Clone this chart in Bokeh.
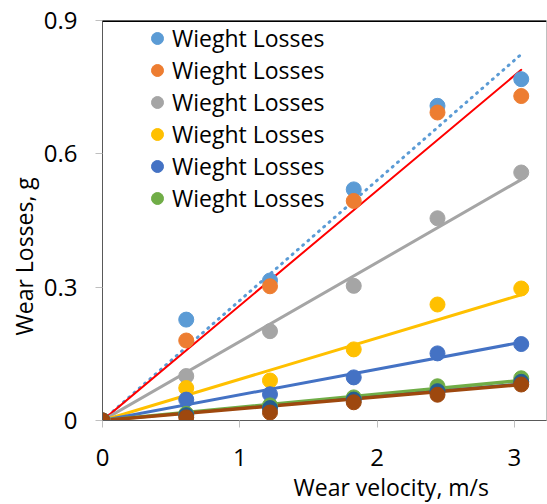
from bokeh.plotting import figure
from bokeh.models import Range1d, FixedTicker, Span, Title, Legend, LegendItem
from bokeh.embed import file_html
from bokeh.resources import INLINE

# ---- data ----
velocity = [0, 0.61, 1.22, 1.83, 2.44, 3.05]
s1 = [0, 0.227, 0.315, 0.520, 0.708, 0.768]   # light blue
s2 = [0, 0.180, 0.302, 0.494, 0.693, 0.730]   # orange
s3 = [0, 0.100, 0.201, 0.303, 0.455, 0.558]   # gray
s4 = [0, 0.073, 0.090, 0.160, 0.261, 0.297]   # yellow
s5 = [0, 0.047, 0.059, 0.097, 0.151, 0.172]   # blue
s6 = [0, 0.015, 0.034, 0.052, 0.077, 0.095]   # green
s7 = [0, 0.012, 0.028, 0.047, 0.066, 0.087]   # dark blue
s8 = [0, 0.007, 0.018, 0.041, 0.058, 0.081]   # brown
series = [s1, s2, s3, s4, s5, s6, s7, s8]
colors = ["#5B9BD5", "#ED7D31", "#A5A5A5", "#FFC000", "#4472C4", "#70AD47", "#255E91", "#9E480E"]
legend_names = ["Wieght Losses"] * 6

# trend lines: from origin to value at end velocity
trend_x = [0, 3.05]
trend_end = [0.824, 0.789, 0.542, 0.283, 0.176, 0.090, 0.083, 0.081]
trend_colors = ["#5B9BD5", "#FF0000", "#A5A5A5", "#FFC000", "#4472C4", "#70AD47", "#255E91", "#9E480E"]
trend_widths = [3, 2, 3, 3, 3, 3.5, 2, 3.5]
trend_dash = ["1 6", "solid", "solid", "solid", "solid", "solid", "solid", "solid"]

y_ticks = [0, 0.3, 0.6, 0.9]
y_tick_labels = {0: "0", 0.3: "0.3", 0.6: "0.6", 0.9: "0.9"}
x_ticks = [0, 1, 2, 3]

FONT = "Open Sans"

p = figure(width=547, height=504, output_backend="svg", toolbar_location=None,
           x_range=Range1d(0, 3.234), y_range=Range1d(0, 0.9),
           min_border_left=102, min_border_right=1, min_border_top=20, min_border_bottom=84)
p.background_fill_color = "white"
p.border_fill_color = "white"
p.outline_line_color = "#BFBFBF"
p.xgrid.visible = False
p.ygrid.visible = False

renderers = []
for i, ys in enumerate(series):
    ty = [0, trend_end[i]]
    p.line(trend_x, ty, line_color=trend_colors[i], line_width=trend_widths[i],
           line_dash=trend_dash[i], line_cap="round")
for i, ys in enumerate(series):
    r = p.scatter(velocity, ys, size=15, fill_color=colors[i], line_color=colors[i])
    renderers.append(r)

p.add_layout(Span(location=0.9, dimension="width", line_color="black", line_width=3))

for ax in (p.xaxis, p.yaxis):
    ax.axis_line_color = "#595959"
    ax.major_tick_line_color = "#BFBFBF"
    ax.major_tick_in = 0
    ax.major_tick_out = 7
    ax.minor_tick_line_color = None
    ax.major_label_text_font = FONT
    ax.major_label_text_font_size = "24px"
    ax.major_label_text_color = "black"

p.yaxis.ticker = FixedTicker(ticks=y_ticks)
p.yaxis.major_label_overrides = y_tick_labels
p.yaxis.major_label_standoff = 18
p.xaxis.ticker = FixedTicker(ticks=x_ticks)
p.xaxis.major_label_standoff = 21

p.add_layout(Title(text="Wear velocity, m/s", text_font=FONT, text_font_size="23px",
                   text_font_style="normal", text_color="black", align="left",
                   offset=191, standoff=0), "below")
p.add_layout(Title(text="Wear Losses, g", text_font=FONT, text_font_size="23px",
                   text_font_style="normal", text_color="black", align="left",
                   offset=85, standoff=2), "left")

items = [LegendItem(label=legend_names[i], renderers=[renderers[i]]) for i in range(6)]
legend = Legend(items=items, location=(40, 206), padding=0, margin=0,
                spacing=0, glyph_width=30, glyph_height=32, label_height=32,
                label_standoff=0, label_text_font=FONT, label_text_font_size="23px",
                label_text_color="black",
                background_fill_alpha=0, border_line_color=None)
p.add_layout(legend)

open("out.html", "w").write(file_html(p, INLINE))
